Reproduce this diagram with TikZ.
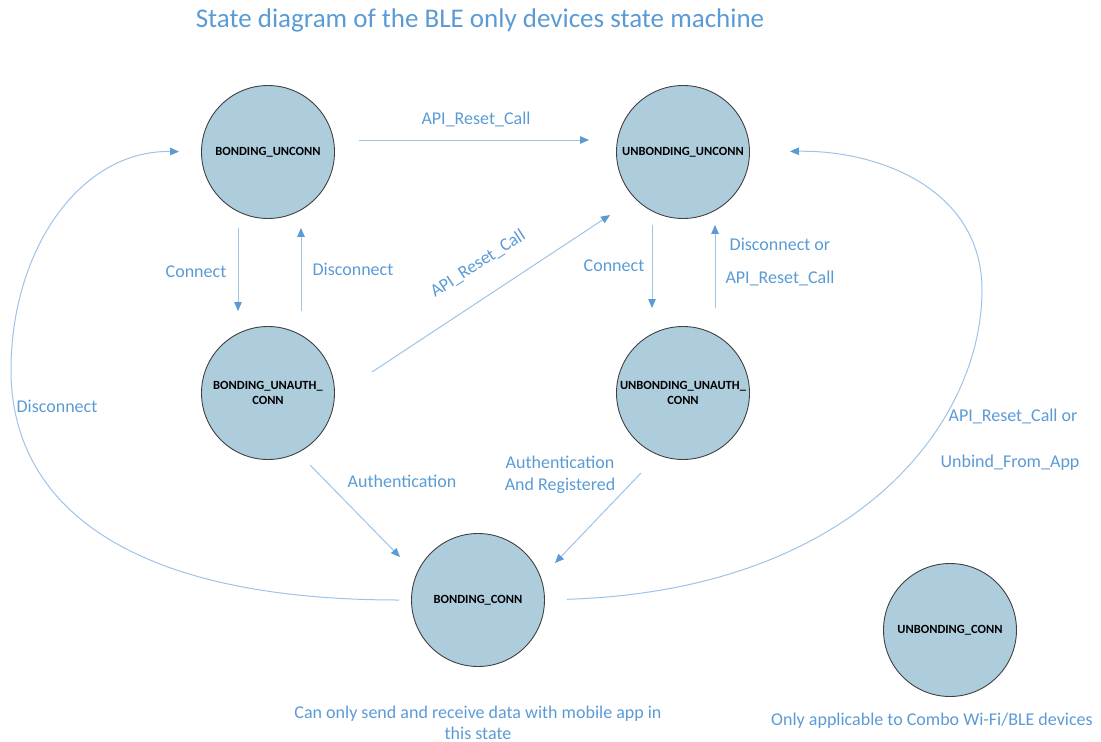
\documentclass[tikz,border=0pt]{standalone}
\usepackage{fontspec}
\setmainfont{Carlito}
\usetikzlibrary{arrows.meta}
\definecolor{linec}{RGB}{157,195,230}
\definecolor{tipc}{RGB}{91,155,213}
\definecolor{textc}{RGB}{91,155,213}
\definecolor{statefill}{RGB}{173,205,221}
\definecolor{stateedge}{RGB}{64,64,64}
\tikzset{
  state/.style={circle, draw=stateedge, line width=0.9pt, fill=statefill,
    minimum size=133pt, inner sep=0pt, align=center,
    font=\fontsize{12.5}{15.5}\selectfont\bfseries, text=black},
  lbl/.style={font=\fontsize{18}{21.5}\selectfont, text=textc, inner sep=0pt, align=center},
  trans/.style={draw=linec, line width=1pt,
    -{Triangle[length=9pt,width=7.5pt,color=tipc]}},
}
\begin{document}
\begin{tikzpicture}[x=1pt,y=-1pt]
\useasboundingbox (0,0) rectangle (1101,742);

% title
\node[lbl, font=\fontsize{27}{32}\selectfont] (title) at (480,20) {State diagram of the BLE only devices state machine};

% states
\node[state] (bu)   at (268,152) {BONDING\_UNCONN};
\node[state] (uu)   at (683,152) {UNBONDING\_UNCONN};
\node[state] (buac) at (268,393) {BONDING\_UNAUTH\_\\CONN};
\node[state] (uuac) at (683,393) {UNBONDING\_UNAUTH\_\\CONN};
\node[state] (bc)   at (478,600) {BONDING\_CONN};
\node[state] (ubc)  at (950,630) {UNBONDING\_CONN};

% free ends of the slanted transitions
\coordinate (d1) at (372,372);
\coordinate (d2) at (610,215);
\coordinate (a1) at (310,465);
\coordinate (a2) at (400,557);
\coordinate (r1) at (641,473);
\coordinate (r2) at (555,563);

% straight transitions
\draw[trans, shorten <=24pt, shorten >=27pt] ([yshift=12pt]bu.east) -- ([yshift=12pt]uu.west);
\draw[trans, shorten <=9pt, shorten >=15pt] ([xshift=-30pt]bu.south) -- ([xshift=-30pt]buac.north);
\draw[trans, shorten <=15pt, shorten >=9pt] ([xshift=33pt]buac.north) -- ([xshift=33pt]bu.south);
\draw[trans, shorten <=6pt, shorten >=18pt] ([xshift=-31pt]uu.south) -- ([xshift=-31pt]uuac.north);
\draw[trans, shorten <=18pt, shorten >=6pt] ([xshift=32pt]uuac.north) -- ([xshift=32pt]uu.south);
\draw[trans] (d1) -- (d2);
\draw[trans] (a1) -- (a2);
\draw[trans] (r1) -- (r2);

% curved transitions
\draw[trans, shorten <=12pt, shorten >=22pt] (bc.west) .. controls (120,600) and (11,500) .. (11,370)
  .. controls (11,250) and (80,150) .. (bu.west);
\draw[trans, shorten <=22pt, shorten >=40pt] (bc.east) .. controls (860,590) and (982,420) .. (982,290)
  .. controls (982,190) and (880,150) .. (uu.east);

% transition labels
\node[lbl] (l1) at (476,119) {API\_Reset\_Call};
\node[lbl] (l2) at (196,272) {Connect};
\node[lbl] (l3) at (353,269) {Disconnect};
\node[lbl, rotate=33] (l4) at (478,264) {API\_Reset\_Call};
\node[lbl] (l5) at (614,266) {Connect};
\node[lbl] (l6) at (780,244) {Disconnect or};
\node[lbl] (l7) at (780,278) {API\_Reset\_Call};
\node[lbl] (l8) at (402,481) {Authentication};
\node[lbl] (l9) at (560,475) {Authentication\\And Registered};
\node[lbl] (l10) at (57,406) {Disconnect};
\node[lbl] (l11) at (1013,416) {API\_Reset\_Call or};
\node[lbl] (l12) at (1010,463) {Unbind\_From\_App};

% notes
\node[lbl] (n1) at (478,723) {Can only send and receive data with mobile app in\\this state};
\node[lbl] (n2) at (932,721) {Only applicable to Combo Wi-Fi/BLE devices};
\end{tikzpicture}
\end{document}
